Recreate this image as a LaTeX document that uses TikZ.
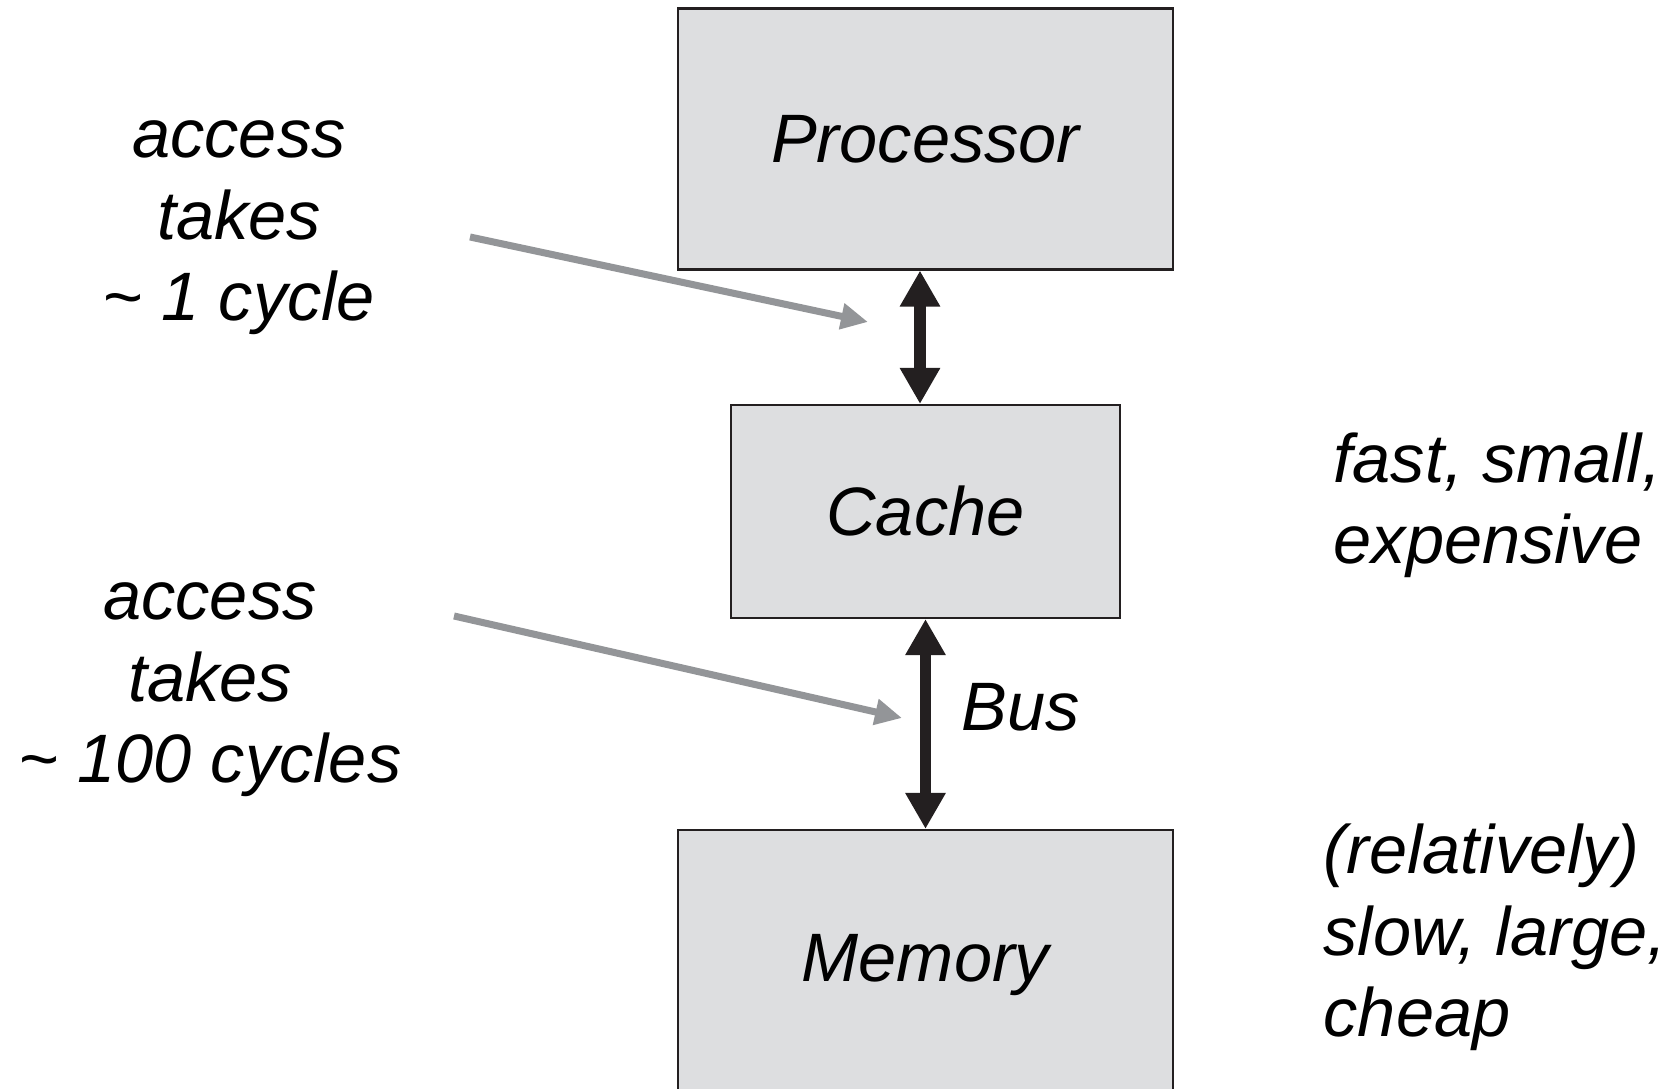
\documentclass[tikz,border=0pt]{standalone}
\usepackage{fontspec}
\setmainfont{Liberation Sans}
\usetikzlibrary{arrows.meta}
\definecolor{boxgray}{RGB}{221,222,224}
\definecolor{hintgray}{RGB}{147,149,152}
\definecolor{inkblack}{RGB}{35,31,32}

\begin{document}
\begin{tikzpicture}[
        every node/.style={font=\fontsize{19.5}{23.3}\selectfont\itshape, inner sep=0pt},
        unit/.style={draw=inkblack, line width=0.6pt, fill=boxgray, minimum width=4.95cm},
        link/.style={inkblack, line width=3.4pt, {Triangle[length=3.6mm,width=3.8mm]}-{Triangle[length=3.6mm,width=3.8mm]}},
        hint/.style={hintgray, line width=2pt, -{Triangle[length=2.7mm,width=2.5mm]}}]
        \useasboundingbox (0,0) rectangle (16.68,-10.89);
        % the three levels
        \node[unit, minimum height=2.61cm] (P) at (9.255,-1.39) {Processor};
        \node[unit, minimum width=3.89cm, minimum height=2.13cm] (C) at (9.255,-5.115) {Cache};
        \node[unit, minimum height=2.70cm] (M) at (9.255,-9.65) {Memory};
        \draw [link] ([xshift=-0.55mm]P.south) -- ([xshift=-0.55mm]C.north);
        \draw [link] (C.south) -- (M.north);
        \node[anchor=west] (bus) at (9.61,-7.07) {Bus};
        % access times (base = last line)
        \node[align=center, anchor=base] (fast) at (2.39,-3.21) {access\\takes\\\textasciitilde{} 1 cycle};
        \node[align=center, anchor=base] (slow) at (2.10,-7.83) {access\\takes\\\textasciitilde{} 100 cycles};
        \coordinate (s1) at (4.70,-2.37);
        \coordinate (t1) at (8.68,-3.22);
        \coordinate (s2) at (4.54,-6.16);
        \coordinate (t2) at (9.02,-7.18);
        \draw [hint] (s1) -- (t1);
        \draw [hint] (s2) -- (t2);
        % properties
        \node[align=left, anchor=base west] (top) at (13.33,-5.64) {fast, small,\\expensive};
        \node[align=left, anchor=base west] (bottom) at (13.23,-10.37) {(relatively)\\slow, large,\\cheap};
    \end{tikzpicture}
\end{document}
